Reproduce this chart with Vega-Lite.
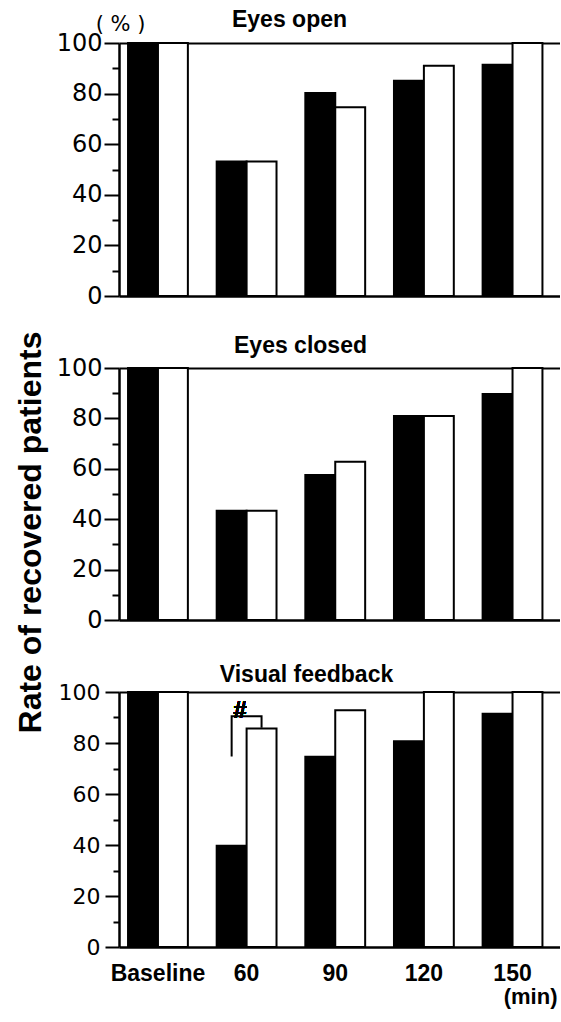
{
  "$schema": "https://vega.github.io/schema/vega-lite/v6.json",
  "padding": {"left": 13, "top": 8, "right": 0, "bottom": 5},
  "background": "white",
  "config": {
    "view": {"stroke": null},
    "axis": {"grid": false, "domainColor": "black", "tickColor": "black", "labelColor": "black", "titleColor": "black"}
  },
  "datasets": {
    "bars": [
      {"panel": "Eyes open", "time": "Baseline", "grp": "A", "value": 100},
      {"panel": "Eyes open", "time": "Baseline", "grp": "B", "value": 100},
      {"panel": "Eyes open", "time": "60", "grp": "A", "value": 53.2},
      {"panel": "Eyes open", "time": "60", "grp": "B", "value": 53.2},
      {"panel": "Eyes open", "time": "90", "grp": "A", "value": 80.2},
      {"panel": "Eyes open", "time": "90", "grp": "B", "value": 74.6},
      {"panel": "Eyes open", "time": "120", "grp": "A", "value": 85.1},
      {"panel": "Eyes open", "time": "120", "grp": "B", "value": 91},
      {"panel": "Eyes open", "time": "150", "grp": "A", "value": 91.4},
      {"panel": "Eyes open", "time": "150", "grp": "B", "value": 100},
      {"panel": "Eyes closed", "time": "Baseline", "grp": "A", "value": 100},
      {"panel": "Eyes closed", "time": "Baseline", "grp": "B", "value": 100},
      {"panel": "Eyes closed", "time": "60", "grp": "A", "value": 43.4},
      {"panel": "Eyes closed", "time": "60", "grp": "B", "value": 43.4},
      {"panel": "Eyes closed", "time": "90", "grp": "A", "value": 57.5},
      {"panel": "Eyes closed", "time": "90", "grp": "B", "value": 62.8},
      {"panel": "Eyes closed", "time": "120", "grp": "A", "value": 81},
      {"panel": "Eyes closed", "time": "120", "grp": "B", "value": 81},
      {"panel": "Eyes closed", "time": "150", "grp": "A", "value": 89.7},
      {"panel": "Eyes closed", "time": "150", "grp": "B", "value": 100},
      {"panel": "Visual feedback", "time": "Baseline", "grp": "A", "value": 100},
      {"panel": "Visual feedback", "time": "Baseline", "grp": "B", "value": 100},
      {"panel": "Visual feedback", "time": "60", "grp": "A", "value": 39.7},
      {"panel": "Visual feedback", "time": "60", "grp": "B", "value": 85.7},
      {"panel": "Visual feedback", "time": "90", "grp": "A", "value": 74.6},
      {"panel": "Visual feedback", "time": "90", "grp": "B", "value": 92.8},
      {"panel": "Visual feedback", "time": "120", "grp": "A", "value": 80.7},
      {"panel": "Visual feedback", "time": "120", "grp": "B", "value": 100},
      {"panel": "Visual feedback", "time": "150", "grp": "A", "value": 91.5},
      {"panel": "Visual feedback", "time": "150", "grp": "B", "value": 100}
    ],
    "bracket": [
      {"time": "60", "grp": "A", "value": 74.7, "step": 1},
      {"time": "60", "grp": "A", "value": 90.5, "step": 2},
      {"time": "60", "grp": "B", "value": 90.5, "step": 3},
      {"time": "60", "grp": "B", "value": 86, "step": 4}
    ]
  },
  "data": {"name": "bars"},
  "spacing": 72,
  "bounds": "flush",
  "vconcat": [
    {
      "width": 441,
      "height": 253,
      "layer": [
        {
          "transform": [{"filter": "datum.panel == 'Eyes open' && datum.grp == 'A'"}],
          "mark": {"type": "bar", "fill": "black", "stroke": "black", "strokeWidth": 2},
          "encoding": {
            "x": {"field": "time", "type": "nominal", "sort": ["Baseline", "60", "90", "120", "150"],
              "scale": {"paddingInner": 0.325, "paddingOuter": 0.15, "align": 0.34},
              "axis": {"orient": "bottom", "labels": false, "ticks": false, "tickSize": 0, "title": null, "domainWidth": 2.5}},
            "xOffset": {"field": "grp", "type": "nominal", "sort": ["A", "B"]},
            "y": {"field": "value", "type": "quantitative", "scale": {"domain": [0, 100], "nice": false},
              "axis": {"orient": "left", "values": [0, 20, 40, 60, 80, 100], "tickSize": 15, "tickWidth": 2, "domainWidth": 2.5,
                "labelFont": "DejaVu Sans", "labelFontSize": 24, "labelPadding": 2, "labelOverlap": false,
                "title": "( % )", "titleAngle": 0, "titleX": 1, "titleY": -13, "titleAlign": "center", "titleBaseline": "alphabetic",
                "titleFont": "DejaVu Sans", "titleFontSize": 21, "titleFontWeight": "normal"}}
          }
        },
        {
          "transform": [{"filter": "datum.panel == 'Eyes open' && datum.grp == 'B'"}],
          "mark": {"type": "bar", "fill": "white", "stroke": "black", "strokeWidth": 2},
          "encoding": {
            "x": {"field": "time", "type": "nominal", "sort": ["Baseline", "60", "90", "120", "150"],
              "axis": {"orient": "top", "labels": false, "ticks": false, "tickSize": 0, "domainWidth": 2,
                "title": "Eyes open", "titleX": 170, "titleY": -17, "titleAlign": "center", "titleBaseline": "alphabetic",
                "titleFont": "Liberation Sans", "titleFontSize": 23, "titleFontWeight": "bold"}},
            "xOffset": {"field": "grp", "type": "nominal", "sort": ["A", "B"]},
            "y": {"field": "value", "type": "quantitative",
              "axis": {"orient": "left", "values": [10, 30, 50, 70, 90], "tickSize": 7, "tickWidth": 2, "labels": false, "domain": false, "title": null}}
          }
        }
      ],
      "resolve": {"axis": {"x": "independent", "y": "independent"}}
    },
    {
      "width": 441,
      "height": 252,
      "layer": [
        {
          "transform": [{"filter": "datum.panel == 'Eyes closed' && datum.grp == 'A'"}],
          "mark": {"type": "bar", "fill": "black", "stroke": "black", "strokeWidth": 2},
          "encoding": {
            "x": {"field": "time", "type": "nominal", "sort": ["Baseline", "60", "90", "120", "150"],
              "scale": {"paddingInner": 0.325, "paddingOuter": 0.15, "align": 0.34},
              "axis": {"orient": "bottom", "labels": false, "ticks": false, "tickSize": 0, "title": null, "domainWidth": 2.5}},
            "xOffset": {"field": "grp", "type": "nominal", "sort": ["A", "B"]},
            "y": {"field": "value", "type": "quantitative", "scale": {"domain": [0, 100], "nice": false},
              "axis": {"orient": "left", "values": [0, 20, 40, 60, 80, 100], "tickSize": 15, "tickWidth": 2, "domainWidth": 2.5,
                "labelFont": "DejaVu Sans", "labelFontSize": 24, "labelPadding": 2, "labelOverlap": false,
                "title": "Rate of recovered patients", "titleAngle": 270, "titleX": -89, "titleY": 164, "titleAlign": "center", "titleBaseline": "middle",
                "titleFont": "Liberation Sans", "titleFontSize": 32, "titleFontWeight": "bold"}}
          }
        },
        {
          "transform": [{"filter": "datum.panel == 'Eyes closed' && datum.grp == 'B'"}],
          "mark": {"type": "bar", "fill": "white", "stroke": "black", "strokeWidth": 2},
          "encoding": {
            "x": {"field": "time", "type": "nominal", "sort": ["Baseline", "60", "90", "120", "150"],
              "axis": {"orient": "top", "labels": false, "ticks": false, "tickSize": 0, "domainWidth": 2,
                "title": "Eyes closed", "titleX": 181, "titleY": -16, "titleAlign": "center", "titleBaseline": "alphabetic",
                "titleFont": "Liberation Sans", "titleFontSize": 23, "titleFontWeight": "bold"}},
            "xOffset": {"field": "grp", "type": "nominal", "sort": ["A", "B"]},
            "y": {"field": "value", "type": "quantitative",
              "axis": {"orient": "left", "values": [10, 30, 50, 70, 90], "tickSize": 7, "tickWidth": 2, "labels": false, "domain": false, "title": null}}
          }
        }
      ],
      "resolve": {"axis": {"x": "independent", "y": "independent"}}
    },
    {
      "width": 441,
      "height": 255,
      "layer": [
        {
          "transform": [{"filter": "datum.panel == 'Visual feedback' && datum.grp == 'A'"}],
          "mark": {"type": "bar", "fill": "black", "stroke": "black", "strokeWidth": 2},
          "encoding": {
            "x": {"field": "time", "type": "nominal", "sort": ["Baseline", "60", "90", "120", "150"],
              "scale": {"paddingInner": 0.325, "paddingOuter": 0.15, "align": 0.34},
              "axis": {"orient": "bottom", "ticks": false, "tickSize": 0, "domainWidth": 2.5, "labelAngle": 0,
                "labelFont": "Liberation Sans", "labelFontSize": 23, "labelFontWeight": "bold", "labelBaseline": "alphabetic", "labelPadding": 33,
                "title": "(min)", "titleX": 438, "titleY": 56, "titleAlign": "right", "titleBaseline": "alphabetic",
                "titleFont": "Liberation Sans", "titleFontSize": 22, "titleFontWeight": "bold"}},
            "xOffset": {"field": "grp", "type": "nominal", "sort": ["A", "B"]},
            "y": {"field": "value", "type": "quantitative", "scale": {"domain": [0, 100], "nice": false},
              "axis": {"orient": "left", "values": [0, 20, 40, 60, 80, 100], "tickSize": 14, "tickWidth": 2, "domainWidth": 2.5,
                "labelFont": "DejaVu Sans", "labelFontSize": 22, "labelPadding": 5, "labelOverlap": false, "title": null}}
          }
        },
        {
          "transform": [{"filter": "datum.panel == 'Visual feedback' && datum.grp == 'B'"}],
          "mark": {"type": "bar", "fill": "white", "stroke": "black", "strokeWidth": 2},
          "encoding": {
            "x": {"field": "time", "type": "nominal", "sort": ["Baseline", "60", "90", "120", "150"],
              "axis": {"orient": "top", "labels": false, "ticks": false, "tickSize": 0, "domainWidth": 2,
                "title": "Visual feedback", "titleX": 187, "titleY": -11, "titleAlign": "center", "titleBaseline": "alphabetic",
                "titleFont": "Liberation Sans", "titleFontSize": 23, "titleFontWeight": "bold"}},
            "xOffset": {"field": "grp", "type": "nominal", "sort": ["A", "B"]},
            "y": {"field": "value", "type": "quantitative",
              "axis": {"orient": "left", "values": [10, 30, 50, 70, 90], "tickSize": 6, "tickWidth": 2, "labels": false, "domain": false, "title": null}}
          }
        },
        {
          "data": {"name": "bracket"},
          "mark": {"type": "line", "color": "black", "strokeWidth": 2},
          "encoding": {
            "x": {"field": "time", "type": "nominal", "sort": ["Baseline", "60", "90", "120", "150"], "axis": null},
            "xOffset": {"field": "grp", "type": "nominal", "sort": ["A", "B"]},
            "y": {"field": "value", "type": "quantitative", "axis": null},
            "order": {"field": "step", "type": "quantitative"}
          }
        },
        {
          "mark": {"type": "text", "text": "#", "font": "Liberation Sans", "fontSize": 24, "fontWeight": "bold", "fontStyle": "italic", "baseline": "alphabetic", "dx": -7, "dy": 2, "color": "black"},
          "encoding": {
            "x": {"datum": "60", "type": "nominal", "axis": null},
            "y": {"datum": 90.5, "type": "quantitative", "axis": null}
          }
        }
      ],
      "resolve": {"axis": {"x": "independent", "y": "independent"}}
    }
  ]
}
